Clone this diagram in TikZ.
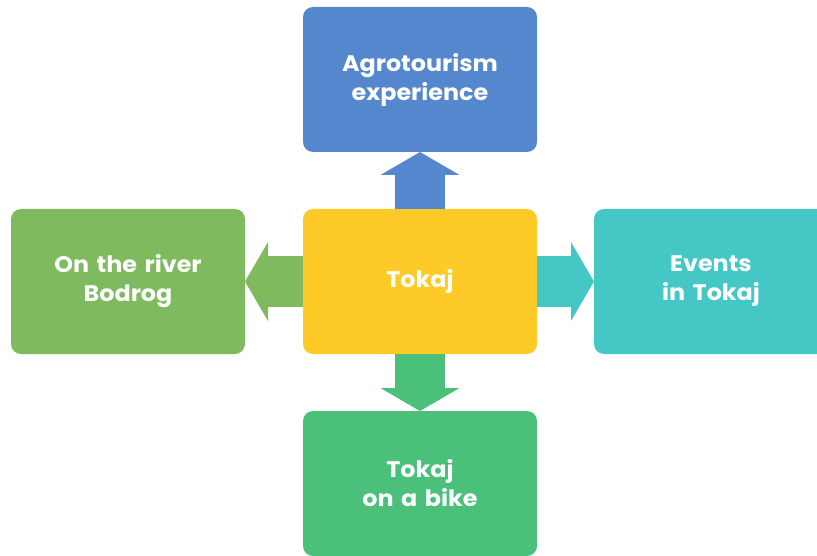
\documentclass[tikz,border=0pt]{standalone}
\usepackage{fontspec}
\setmainfont{Poppins}[FakeStretch=1.06]
\usepackage{tikz}
\usetikzlibrary{positioning, arrows.meta}

\definecolor{tkblue}{HTML}{5587CE}
\definecolor{tkyellow}{HTML}{FDCA28}
\definecolor{tkolive}{HTML}{80BA5E}
\definecolor{tkteal}{HTML}{45C8C5}
\definecolor{tkgreen}{HTML}{4AC07B}

\begin{document}
\begin{tikzpicture}[x=1pt, y=-1pt,
  topic/.style={rounded corners=10pt, minimum width=234pt, minimum height=145pt,
               text width=220pt, align=center, inner sep=0pt, outer sep=0pt,
               text=white, font=\bfseries\fontsize{22.5}{29}\selectfont},
  blockarrow/.style={line width=50pt, -{Triangle[length=23pt, width=79pt, line width=0pt]}}
]
\useasboundingbox (0,0) rectangle (817,556);
\clip (0,0) rectangle (817,556);
\node[topic, fill=tkyellow] (tokaj) at (420,281.5) {Tokaj};
\node[topic, fill=tkblue, above=57pt of tokaj] (agro) {Agrotourism\\experience};
\node[topic, fill=tkolive, left=58pt of tokaj] (river) {On the river\\Bodrog};
\node[topic, fill=tkteal, right=57pt of tokaj] (events) {Events\\in Tokaj};
\node[topic, fill=tkgreen, below=57pt of tokaj] (bike) {Tokaj\\on a bike};
% arrows
\draw[blockarrow, tkblue] (tokaj.north) -- (agro.south);
\draw[blockarrow, tkolive] (tokaj.west) -- (river.east);
\draw[blockarrow, tkteal] (tokaj.east) -- (events.west);
\draw[blockarrow, tkgreen] (tokaj.south) -- (bike.north);
\end{tikzpicture}
\end{document}
